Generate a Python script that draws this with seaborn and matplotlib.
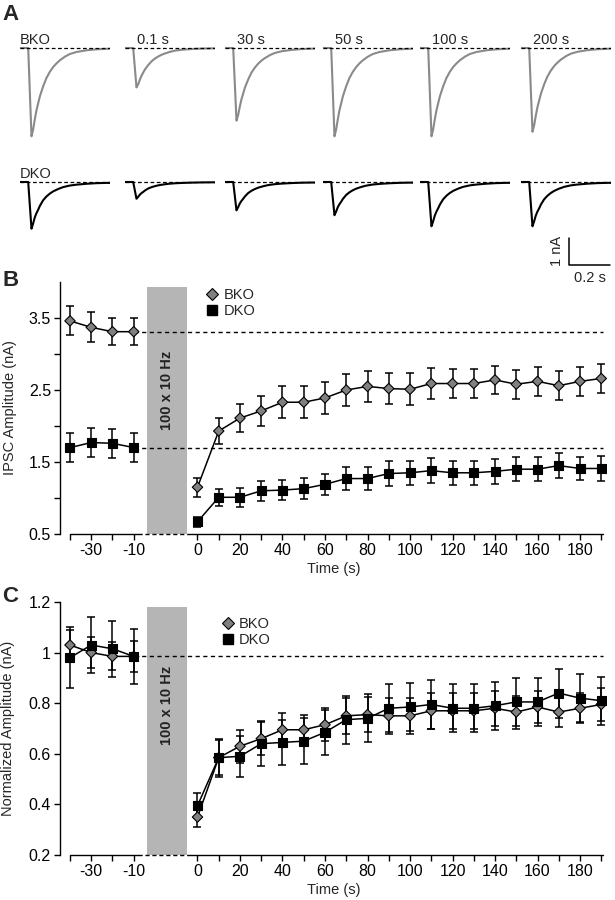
import numpy as np
import pandas as pd
import matplotlib
matplotlib.use("Agg")
import matplotlib.pyplot as plt
import matplotlib.transforms as mtransforms
from matplotlib.lines import Line2D
import seaborn as sns

sns.set_theme(style="ticks")
plt.rcParams["font.family"] = ["Liberation Sans", "DejaVu Sans"]
plt.rcParams["axes.linewidth"] = 1.0

# ---------------- panel A: example traces ----------------
trace_titles = ["BKO", "0.1 s", "30 s", "50 s", "100 s", "200 s"]
bko_trace_peak = [3.27, 1.46, 2.69, 3.27, 3.27, 3.10]   # nA
dko_trace_peak = [1.73, 0.62, 1.05, 1.23, 1.64, 1.64]   # nA

# decay of the control traces (s after peak, fraction of peak)
bko_decay_t = [0, .008, .016, .024, .033, .041, .057, .073, .089, .106, .122, .138,
               .163, .187, .220, .268, .317, .382]
bko_decay_v = [1, .925, .811, .709, .623, .547, .434, .340, .272, .215, .174, .140,
               .098, .068, .045, .026, .015, .008]
dko_decay_t = [0, .008, .016, .024, .033, .041, .057, .073, .089, .106, .130, .154,
               .187, .220, .268, .317, .366]
dko_decay_v = [1, .89, .76, .67, .59, .51, .39, .31, .25, .20, .15, .11,
               .076, .057, .038, .025, .019]

# ---------------- panels B/C: time course ----------------
pre_time = [-40, -30, -20, -10]
post_time = [0, 10, 20, 30, 40, 50, 60, 70, 80, 90, 100, 110, 120, 130, 140,
             150, 160, 170, 180, 190]

bko_pre = [3.46, 3.37, 3.31, 3.31]
bko_pre_err = [0.20, 0.21, 0.19, 0.19]
dko_pre = [1.70, 1.77, 1.76, 1.70]
dko_pre_err = [0.20, 0.20, 0.20, 0.20]
bko_post = [1.15, 1.93, 2.11, 2.21, 2.33, 2.33, 2.39, 2.50, 2.55, 2.52, 2.51, 2.59,
            2.59, 2.59, 2.64, 2.58, 2.62, 2.56, 2.62, 2.66]
bko_post_err = [0.13, 0.18, 0.20, 0.21, 0.22, 0.22, 0.22, 0.22, 0.22, 0.22, 0.22, 0.21,
                0.20, 0.20, 0.20, 0.20, 0.20, 0.20, 0.20, 0.20]
dko_post = [0.67, 1.01, 1.01, 1.10, 1.11, 1.13, 1.19, 1.27, 1.27, 1.34, 1.35, 1.38,
            1.35, 1.35, 1.37, 1.40, 1.40, 1.45, 1.41, 1.41]
dko_post_err = [0.07, 0.12, 0.13, 0.14, 0.14, 0.15, 0.15, 0.16, 0.16, 0.18, 0.17, 0.17,
                0.17, 0.17, 0.17, 0.17, 0.17, 0.17, 0.16, 0.17]

bko_norm_pre = [1.03, 1.00, 0.985, 0.985]
bko_norm_pre_err = [0.06, 0.06, 0.055, 0.06]
dko_norm_pre = [0.98, 1.03, 1.015, 0.985]
dko_norm_pre_err = [0.12, 0.11, 0.11, 0.11]
bko_norm_post = [0.35, 0.585, 0.63, 0.66, 0.695, 0.695, 0.715, 0.75, 0.755, 0.75, 0.75,
                 0.77, 0.77, 0.77, 0.78, 0.765, 0.785, 0.765, 0.78, 0.795]
bko_norm_post_err = [0.04, 0.07, 0.065, 0.065, 0.065, 0.06, 0.065, 0.07, 0.07, 0.07, 0.07,
                     0.07, 0.07, 0.07, 0.07, 0.065, 0.065, 0.06, 0.06, 0.065]
dko_norm_post = [0.395, 0.585, 0.59, 0.64, 0.645, 0.65, 0.685, 0.735, 0.74, 0.78, 0.785,
                 0.795, 0.78, 0.78, 0.79, 0.805, 0.805, 0.84, 0.82, 0.81]
dko_norm_post_err = [0.05, 0.075, 0.08, 0.09, 0.09, 0.09, 0.09, 0.095, 0.095, 0.095, 0.095,
                     0.095, 0.095, 0.095, 0.095, 0.095, 0.095, 0.097, 0.095, 0.095]

GRAY = "#8a8a8a"
MARKER_GRAY = "#808080"
BAR_GRAY = "#b5b5b5"
AXIS_GAP = 20      # pre-train points are shifted left to close the axis break
W, H = 615, 900

fig = plt.figure(figsize=(W / 100, H / 100), dpi=100)


def px_axes(x0, y0, w, h):
    return fig.add_axes([x0 / W, 1 - (y0 + h) / H, w / W, h / H])


# ---- panel A ----
onset, rise, window = 0.04, 0.016, 0.44
col_left = [20, 125, 225, 323, 420, 521]
row_base = [48, 182]
px_per_s, px_per_nA = 205, 27
ylo, yhi = -4.4, 0.3

for row, (peaks, dt, dv, color, name) in enumerate([
        (bko_trace_peak, bko_decay_t, bko_decay_v, GRAY, "BKO"),
        (dko_trace_peak, dko_decay_t, dko_decay_v, "black", "DKO")]):
    for i, amp in enumerate(peaks):
        ax = px_axes(col_left[i], row_base[row] - yhi * px_per_nA,
                     window * px_per_s, (yhi - ylo) * px_per_nA)
        t = np.concatenate([[0, onset], onset + rise + np.array(dt), [window]])
        v = np.concatenate([[0, 0], -amp * np.array(dv), [-amp * dv[-1]]])
        sns.lineplot(x=t, y=v, ax=ax, color=color, lw=1.5, estimator=None)
        ax.plot([0, window], [0, 0], color="black", lw=0.9, ls=(0, (3, 2)), zorder=3)
        ax.set_xlim(0, window)
        ax.set_ylim(ylo, yhi)
        ax.axis("off")
        if row == 0:
            ax.text(0 if i == 0 else 0.06, 0.13, trace_titles[i], fontsize=10.5,
                    va="baseline", ha="left")
        elif i == 0:
            ax.text(0, 0.15, name, fontsize=10.5, va="baseline", ha="left")
        if row == 1 and i == len(peaks) - 1:
            # scale bar: 1 nA, 0.2 s
            sx, sy = 0.234, -3.07
            ax.plot([sx, sx, sx + 0.2], [sy + 1, sy, sy], color="black", lw=1.1,
                    clip_on=False)
            ax.text(sx - 0.058, sy + 0.5, "1 nA", rotation=90, ha="center",
                    va="center", fontsize=10.5)
            ax.text(sx + 0.1, sy - 0.5, "0.2 s", ha="center", va="center", fontsize=10.5)


# ---- panels B and C ----
def timecourse_frame(bp, bpe, bq, bqe, dp, dpe, dq, dqe):
    rows = []
    for geno, pre, pre_e, post, post_e in [("BKO", bp, bpe, bq, bqe),
                                           ("DKO", dp, dpe, dq, dqe)]:
        for t, y, e in zip(pre_time, pre, pre_e):
            rows.append((geno, "pre", t, t - AXIS_GAP, y, e))
        for t, y, e in zip(post_time, post, post_e):
            rows.append((geno, "post", t, t, y, e))
    return pd.DataFrame(rows, columns=["genotype", "segment", "time", "xpos", "value", "err"])


def draw_timecourse(ax, df, ylim, yticks, ylabels, bar_top, text_y, leg_anchor,
                    ylabel, ref_levels, ylabel_x):
    for geno, sub in df.groupby("genotype"):
        ax.errorbar(sub["xpos"], sub["value"], yerr=sub["err"], fmt="none",
                    ecolor="black", elinewidth=1.1, capsize=2.9, capthick=1.1, zorder=2)
    sns.lineplot(data=df, x="xpos", y="value", hue="genotype", units="segment",
                 estimator=None, palette={"BKO": "black", "DKO": "black"},
                 lw=1.1, legend=False, ax=ax, zorder=2)
    sns.scatterplot(data=df, x="xpos", y="value", hue="genotype", style="genotype",
                    markers={"BKO": "D", "DKO": "s"},
                    palette={"BKO": MARKER_GRAY, "DKO": "black"},
                    size="genotype", sizes={"BKO": 28, "DKO": 42},
                    edgecolor="black", linewidth=0.8, legend=False, ax=ax, zorder=3)

    last_pre = pre_time[-1] - AXIS_GAP
    for lvl in ref_levels:
        ax.hlines(lvl, last_pre, 191, colors="black", lw=1.0, linestyles=(0, (3, 2.5)),
                  zorder=1)

    ax.axvspan(-23.6, -5.1, ymin=0, ymax=(bar_top - ylim[0]) / (ylim[1] - ylim[0]),
               color=BAR_GRAY, lw=0, zorder=0)
    ax.text(-14.35, text_y, "100 x 10 Hz", rotation=90, ha="center", va="center",
            fontsize=10.5, fontweight="bold", color="#222222")

    ax.set_xlim(-64.7, 192.7)
    ax.set_ylim(*ylim)
    xt = [t - AXIS_GAP for t in pre_time] + post_time
    xl = [str(t) if t in (-30, -10) else "" for t in pre_time] + \
         [str(t) if t % 20 == 0 else "" for t in post_time]
    ax.set_xticks(xt)
    ax.set_xticklabels(xl)
    ax.set_yticks(yticks)
    ax.set_yticklabels(ylabels)
    ax.tick_params(direction="out", length=4, width=1, labelsize=11.5, pad=2.5,
                   color="black", labelcolor="black")

    for s in ("top", "right", "bottom"):
        ax.spines[s].set_visible(False)
    ax.spines["left"].set_color("black")
    trans = mtransforms.blended_transform_factory(ax.transData, ax.transAxes)
    ax.plot([-60, -28], [0, 0], transform=trans, color="black", lw=1, clip_on=False)
    ax.plot([-28, -4.5], [0, 0], transform=trans, color="black", lw=1,
            ls=(0, (3, 2)), clip_on=False)
    ax.plot([-4.5, 191], [0, 0], transform=trans, color="black", lw=1, clip_on=False)

    ax.set_xlabel("Time (s)", fontsize=10.5, labelpad=3)
    ax.set_ylabel(ylabel, fontsize=10.5)
    ax.yaxis.set_label_coords(ylabel_x, 0.5)

    handles = [Line2D([], [], marker="D", ls="none", mfc=MARKER_GRAY, mec="black",
                      mew=0.8, ms=6),
               Line2D([], [], marker="s", ls="none", mfc="black", mec="black", ms=7.5)]
    ax.legend(handles, ["BKO", "DKO"], loc="upper left", bbox_to_anchor=leg_anchor,
              frameon=False, fontsize=10.5, handlelength=0.8, handletextpad=0.35,
              labelspacing=0.15, borderpad=0, borderaxespad=0)


df_b = timecourse_frame(bko_pre, bko_pre_err, bko_post, bko_post_err,
                        dko_pre, dko_pre_err, dko_post, dko_post_err)
df_c = timecourse_frame(bko_norm_pre, bko_norm_pre_err, bko_norm_post, bko_norm_post_err,
                        dko_norm_pre, dko_norm_pre_err, dko_norm_post, dko_norm_post_err)

ax_b = px_axes(60, 282, 547, 252)
b_ticks = [0.5, 1.0, 1.5, 2.0, 2.5, 3.0, 3.5]
draw_timecourse(ax_b, df_b, (0.5, 4.0), b_ticks,
                [f"{v:g}" if v in (0.5, 1.5, 2.5, 3.5) else "" for v in b_ticks],
                3.93, 2.5, (0.268, 0.975), "IPSC Amplitude (nA)",
                [bko_pre[-1], dko_pre[-1]], -0.079)

ax_c = px_axes(60, 602, 547, 253)
c_ticks = [0.2, 0.4, 0.6, 0.8, 1.0, 1.2]
draw_timecourse(ax_c, df_c, (0.2, 1.2), c_ticks, [f"{v:g}" for v in c_ticks],
                1.18, 0.79, (0.296, 0.94), "Normalized Amplitude (nA)",
                [bko_norm_pre[-1]], -0.082)

for letter, y in [("A", 14), ("B", 281), ("C", 597)]:
    fig.text(2 / W, 1 - y / H, letter, fontsize=16, fontweight="bold",
             ha="left", va="center")

fig.savefig("out.png", dpi=100)
